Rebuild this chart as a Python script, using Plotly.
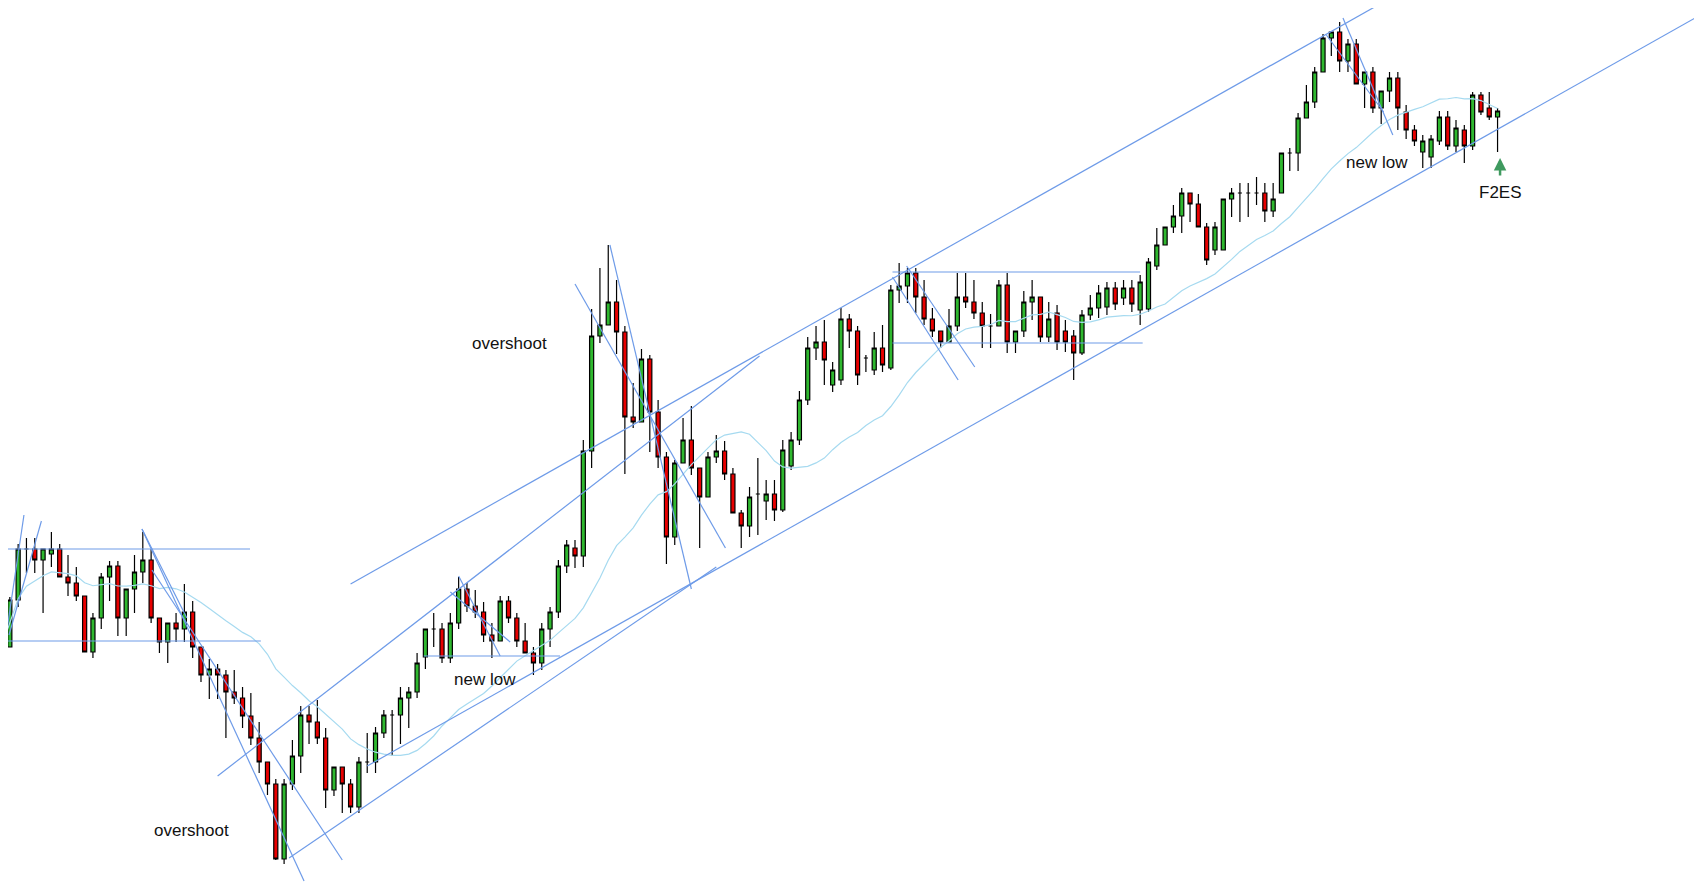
import plotly.graph_objects as go
import pandas as pd

TOP = 885  # readings below are measured downward from the top of the chart; price = TOP - reading

# bar readings (index order), each: open, high, low, close
o_read = [635,647,600,549,549,560,554,549,577,583,596,652,618,577,566,618,589,572,560,618,
          642,623,629,612,647,675,669,675,692,698,716,738,762,784,859,784,756,715,722,738,
          790,767,784,807,762,762,733,715,715,698,692,657,629,629,658,623,589,606,612,635,
          641,601,618,641,653,663,629,612,566,548,556,451,336,325,302,332,417,422,359,412,
          457,537,463,440,468,497,457,451,474,513,526,494,501,494,510,466,440,400,348,342,
          385,380,319,331,358,370,348,368,290,286,273,297,319,331,342,326,297,302,313,326,
          326,285,342,331,302,297,337,313,331,336,353,315,308,307,288,298,288,310,309,266,
          245,227,216,193,204,227,250,250,199,193,193,193,193,211,193,153,153,118,102,72,
          38,32,61,44,84,72,108,91,78,112,130,152,157,141,117,146,130,146,95,108,117]
h_read = [630,597,544,538,538,549,532,544,555,567,596,613,573,561,561,589,555,532,549,618,
          623,613,584,601,647,659,664,670,670,687,693,722,762,779,779,740,706,706,700,728,
          767,767,779,757,733,727,710,710,687,687,653,629,613,623,613,577,583,590,602,623,
          596,596,613,623,647,623,607,560,540,540,440,309,268,245,280,326,383,349,355,400,
          452,460,418,406,468,452,435,441,468,510,487,458,480,480,440,432,391,337,326,320,
          362,308,314,326,355,332,325,285,263,268,268,280,308,331,309,273,273,280,302,314,
          280,273,331,291,280,297,302,305,320,330,310,295,285,282,282,280,280,275,258,228,
          227,205,188,193,194,223,222,199,188,183,183,177,183,183,153,148,113,85,67,34,
          32,22,39,39,72,67,91,72,72,105,125,135,135,111,111,120,125,92,92,92,108]
l_read = [682,647,607,573,573,613,567,577,596,601,652,658,629,601,636,636,613,583,623,653,
          663,642,642,658,682,699,699,738,704,728,745,773,795,860,864,790,773,744,744,808,
          796,813,813,813,773,773,738,756,744,728,698,669,647,663,663,629,612,618,642,658,
          641,623,647,653,675,670,647,618,573,568,567,468,343,325,354,474,428,422,452,468,
          564,545,463,475,548,497,463,480,513,548,537,535,520,521,512,470,445,405,360,385,
          392,385,348,385,372,375,372,370,303,303,313,325,337,348,342,331,308,319,348,348,
          326,353,353,337,320,342,342,350,352,380,355,320,318,315,310,305,312,325,312,270,
          245,233,233,222,227,265,255,250,217,222,217,205,222,217,193,171,171,118,108,72,
          56,72,72,84,108,113,124,102,130,139,146,168,168,145,150,152,163,150,115,120,152]
c_read = [647,600,549,549,560,549,549,577,583,596,652,618,577,566,618,589,572,560,618,642,
          623,629,612,647,675,669,675,692,698,716,738,762,784,859,784,756,715,722,738,790,
          767,784,807,762,762,733,715,715,698,692,663,629,629,658,623,589,606,612,635,641,
          601,618,641,653,663,629,612,566,545,556,451,336,325,302,332,417,422,359,412,457,
          537,463,440,468,497,457,451,474,513,526,497,494,494,510,450,440,400,348,342,360,
          370,319,331,375,358,348,365,290,286,273,297,319,331,342,326,297,302,313,326,326,
          285,342,331,302,297,337,319,342,342,353,315,308,293,288,304,288,304,282,262,245,
          227,216,193,204,227,260,227,199,193,193,193,193,211,199,153,153,118,102,72,38,
          32,61,44,84,72,108,91,78,108,130,141,141,139,117,146,128,146,95,112,117,111]

idx = list(range(len(o_read)))
opn = [TOP - v for v in o_read]
hig = [TOP - v for v in h_read]
low = [TOP - v for v in l_read]
cls = [TOP - v for v in c_read]

# trend lines (bar index, price) pairs
line_x0 = [16.9, 18.1, 16.9, -0.2, -0.2, -0.2, 0.9, 26.0, 42.0, 44.0, 34.6, 54.0, 55.0, 50.8, 73.2, 69.0, 107.2, 107.2, 107.2, 108.9, 161.4, 159.4]
line_y0 = [356, 315, 356, 336, 244, 207, 250, 109, 301, 119, 27, 293, 309, 229, 640, 601, 613, 542, 608, 619, 867, 850]
line_x1 = [36.4, 41.0, 22.3, 29.9, 31.2, 2.7, 4.8, 91.2, 166.7, 204.2, 86.0, 61.2, 60.0, 67.2, 83.0, 87.1, 137.0, 137.3, 115.1, 117.1, 167.4, 166.3]
line_y1 = [4, 25, 267, 336, 244, 370, 364, 529, 885, 869, 318, 243, 229, 229, 296, 337, 613, 542, 505, 518, 750, 773]

labels = ["overshoot", "overshoot", "new low", "new low", "F2ES"]
label_x = [61.1, 22.9, 58.2, 165.5, 180.3]
label_y = [542, 55, 206, 723, 693]

ma = pd.Series(cls).rolling(20, min_periods=1).mean()

fig = go.Figure()
fig.add_trace(go.Scatter(x=idx, y=ma, mode="lines", line=dict(color="#a6daf0", width=1.2), hoverinfo="skip"))
fig.add_trace(go.Candlestick(
    x=idx, open=opn, high=hig, low=low, close=cls,
    increasing=dict(fillcolor="#2fb82f", line=dict(color="#000000", width=1.2)),
    decreasing=dict(fillcolor="#e80000", line=dict(color="#000000", width=1.2)),
    whiskerwidth=0))

for x0, y0, x1, y1 in zip(line_x0, line_y0, line_x1, line_y1):
    fig.add_shape(type="line", x0=x0, y0=y0, x1=x1, y1=y1, xref="x", yref="y",
                  line=dict(color="#6e9be8", width=1.2))

for t, x, y in zip(labels, label_x, label_y):
    fig.add_annotation(x=x, y=y, text=t, showarrow=False, xref="x", yref="y",
                       font=dict(family="Liberation Sans, Arial", size=17, color="#111111"))

fig.add_annotation(x=180.3, y=727, ax=180.3, ay=708, xref="x", yref="y", axref="x", ayref="y",
                   text="", showarrow=True, arrowhead=2, arrowsize=1, arrowwidth=2.5, arrowcolor="#3f9a5f")

fig.update_layout(
    width=1702, height=885, margin=dict(l=0, r=0, t=0, b=0),
    paper_bgcolor="white", plot_bgcolor="white", showlegend=False,
    xaxis=dict(range=[0.78, 205.56], visible=False, rangeslider=dict(visible=False)),
    yaxis=dict(range=[-8, 877], visible=False),
)
fig.write_html("out.html")
